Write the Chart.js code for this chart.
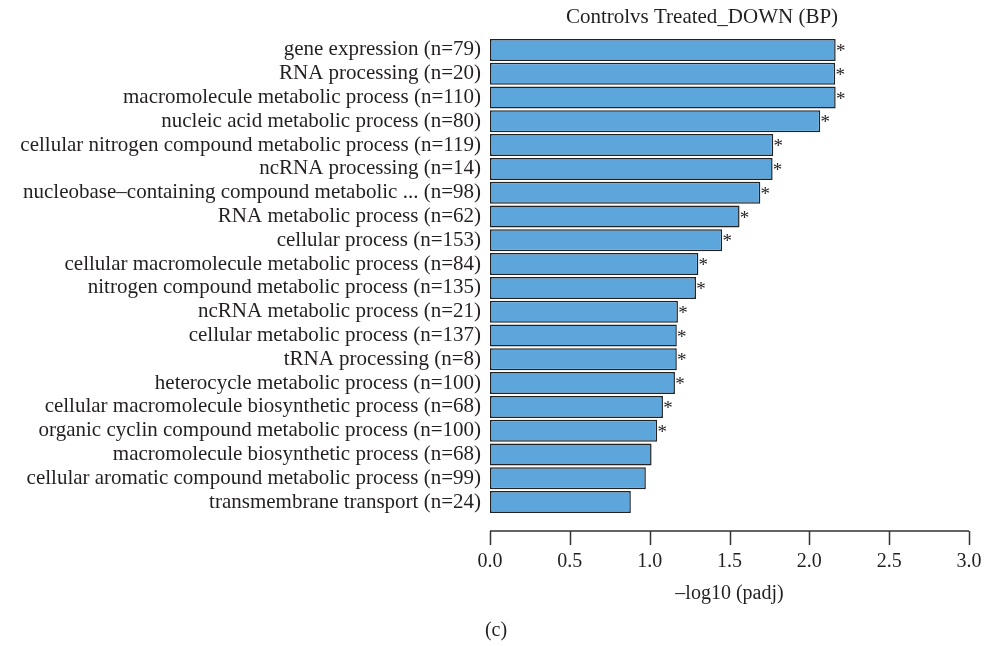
<!DOCTYPE html>
<html>
<head>
<meta charset="utf-8">
<script src="https://cdn.jsdelivr.net/npm/chart.js@4"></script>
<style>
  html, body { margin: 0; padding: 0; background: #fff; }
  #wrap { width: 984px; height: 646px; }
</style>
</head>
<body>
<div id="wrap"><canvas id="gochart"></canvas></div>
<script>
const terms = [
  'gene expression', 'RNA processing', 'macromolecule metabolic process',
  'nucleic acid metabolic process', 'cellular nitrogen compound metabolic process',
  'ncRNA processing', 'nucleobase\u2013containing compound metabolic ...',
  'RNA metabolic process', 'cellular process', 'cellular macromolecule metabolic process',
  'nitrogen compound metabolic process', 'ncRNA metabolic process',
  'cellular metabolic process', 'tRNA processing', 'heterocycle metabolic process',
  'cellular macromolecule biosynthetic process', 'organic cyclin compound metabolic process',
  'macromolecule biosynthetic process', 'cellular aromatic compound metabolic process',
  'transmembrane transport'
];
const geneCounts = [79, 20, 110, 80, 119, 14, 98, 62, 153, 84, 135, 21, 137, 8, 100, 68, 100, 68, 99, 24];
const negLogPadj = [2.165, 2.162, 2.165, 2.068, 1.774, 1.770, 1.693, 1.563, 1.454, 1.305,
                    1.290, 1.177, 1.170, 1.170, 1.158, 1.083, 1.047, 1.012, 0.976, 0.882];
const significant = [true, true, true, true, true, true, true, true, true, true,
                     true, true, true, true, true, true, true, false, false, false];
const xTicks = [0, 0.5, 1, 1.5, 2, 2.5, 3];

const labels = terms.map((t, i) => t + ' (n=' + geneCounts[i] + ')');
const serif = "'Liberation Serif', 'DejaVu Serif', serif";
const ink = '#231f20';

// R-style detached x axis + significance stars + titles
const extras = {
  id: 'extras',
  afterDraw(chart) {
    const ctx = chart.ctx;
    const x = chart.scales.x;
    const axisY = 531;
    ctx.save();
    ctx.strokeStyle = '#333';
    ctx.lineWidth = 1.5;
    ctx.beginPath();
    ctx.moveTo(x.getPixelForValue(xTicks[0]), axisY);
    ctx.lineTo(x.getPixelForValue(xTicks[xTicks.length - 1]), axisY);
    xTicks.forEach(v => {
      const px = Math.round(x.getPixelForValue(v)) + 0.5;
      ctx.moveTo(px, axisY);
      ctx.lineTo(px, axisY + 14);
    });
    ctx.stroke();

    const meta = chart.getDatasetMeta(0);
    ctx.fillStyle = ink;
    ctx.font = '19px ' + serif;
    ctx.textAlign = 'center';
    ctx.textBaseline = 'alphabetic';
    meta.data.forEach((bar, i) => {
      if (significant[i]) ctx.fillText('*', bar.x + 5, bar.y + 7);
    });

    ctx.font = '21px ' + serif;
    ctx.textBaseline = 'middle';
    ctx.fillText('Controlvs Treated_DOWN (BP)', 702, 17);
    ctx.font = '20px ' + serif;
    ctx.fillText('(c)', 496, 631);
    ctx.restore();
  }
};

new Chart(document.getElementById('gochart'), {
  type: 'bar',
  data: {
    labels: labels,
    datasets: [{
      data: negLogPadj,
      backgroundColor: '#5DA6DB',
      borderColor: '#222',
      borderWidth: 1.5,
      borderSkipped: false,
      barPercentage: 0.925,
      categoryPercentage: 1
    }]
  },
  options: {
    indexAxis: 'y',
    responsive: true,
    maintainAspectRatio: false,
    animation: false,
    layout: { padding: { top: 38, right: 15, bottom: 40, left: 0 } },
    plugins: {
      legend: { display: false },
      tooltip: { enabled: false }
    },
    scales: {
      x: {
        min: 0,
        max: 3,
        afterBuildTicks: s => { s.ticks = xTicks.map(v => ({ value: v })); },
        grid: { display: false, drawTicks: true, tickLength: 36 },
        border: { display: false },
        ticks: {
          color: ink,
          padding: 0,
          maxRotation: 0,
          font: { family: serif, size: 20 },
          callback: v => v.toFixed(1)
        },
        title: {
          display: true,
          text: '\u2013log10 (padj)',
          color: ink,
          font: { family: serif, size: 20 },
          padding: { top: 8, bottom: 0 }
        }
      },
      y: {
        afterFit: s => { s.width = 490; },
        grid: { display: false, drawTicks: false },
        border: { display: false },
        ticks: {
          color: ink,
          padding: 9,
          autoSkip: false,
          font: { family: serif, size: 21 }
        }
      }
    }
  },
  plugins: [extras]
});
</script>
</body>
</html>
